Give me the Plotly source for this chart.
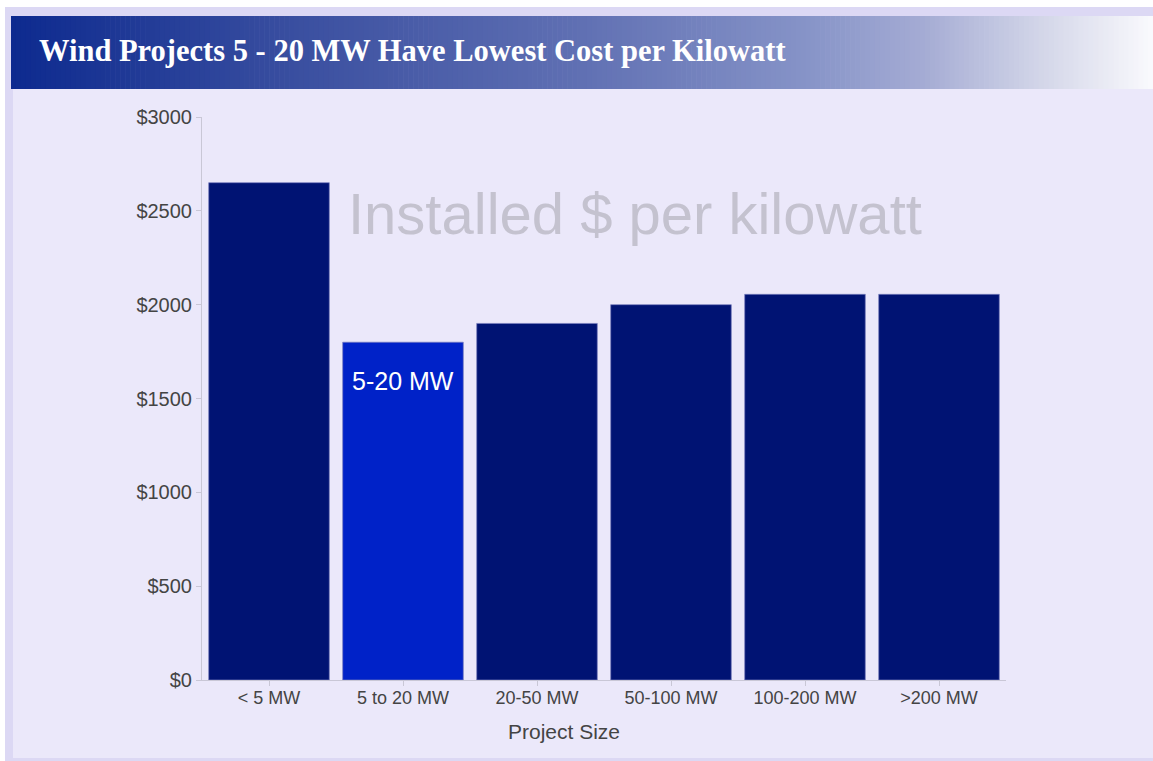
import plotly.graph_objects as go

# ---- data ----
categories = ["< 5 MW", "5 to 20 MW", "20-50 MW", "50-100 MW", "100-200 MW", ">200 MW"]
cost_per_kw = [2650, 1800, 1900, 2000, 2055, 2055]
highlight = "5 to 20 MW"
y_tick_values = [0, 500, 1000, 1500, 2000, 2500, 3000]
y_tick_labels = ["$0", "$500", "$1000", "$1500", "$2000", "$2500", "$3000"]

title_text = "Wind Projects 5 - 20 MW Have Lowest Cost per Kilowatt"
watermark_text = "Installed $ per kilowatt"
bar_label_text = "5-20 MW"
x_title_text = "Project Size"

# ---- geometry (pixels) ----
W, H = 1153, 761
PLOT_L, PLOT_R, PLOT_T, PLOT_B = 202, 1006, 117, 680


def px(x):
    return x / W


def py(y):
    return 1 - y / H


DARK = "#001373"
BRIGHT = "#0022c8"
bar_colors = [BRIGHT if c == highlight else DARK for c in categories]

fig = go.Figure()
fig.add_trace(go.Bar(
    x=categories,
    y=cost_per_kw,
    marker=dict(color=bar_colors, line=dict(color="rgba(120,125,190,0.7)", width=1)),
    hoverinfo="x+y",
    showlegend=False,
))

shapes = []
# outer border
shapes.append(dict(type="rect", xref="paper", yref="paper", x0=px(5), x1=px(W), y0=py(761), y1=py(7),
                   fillcolor="#dcd8f4", line=dict(width=0), layer="below"))
# panel
shapes.append(dict(type="rect", xref="paper", yref="paper", x0=px(13), x1=px(W), y0=py(758), y1=py(89),
                   fillcolor="#ebe8fa", line=dict(width=0), layer="below"))

# gradient title bar
stops = [(0.0, (13, 42, 143)), (0.25, (58, 79, 160)), (0.5, (96, 112, 179)),
         (0.7, (135, 148, 200)), (0.8, (165, 172, 212)), (0.9, (210, 213, 232)),
         (1.0, (250, 250, 253))]


def grad(t):
    for (t0, c0), (t1, c1) in zip(stops[:-1], stops[1:]):
        if t <= t1:
            f = (t - t0) / (t1 - t0) if t1 > t0 else 0
            return "rgb(%d,%d,%d)" % tuple(round(a + (b - a) * f) for a, b in zip(c0, c1))
    return "rgb(%d,%d,%d)" % stops[-1][1]


x_start, x_end = 11, W
n = 230
step = (x_end - x_start) / n
for i in range(n):
    xa = x_start + i * step
    xb = xa + step + 0.6
    t = (i + 0.5) / n
    shapes.append(dict(type="rect", xref="paper", yref="paper", x0=px(xa), x1=px(min(xb, W)),
                       y0=py(89), y1=py(16), fillcolor=grad(t), line=dict(width=0), layer="below"))

annotations = [
    dict(text=title_text, xref="paper", yref="paper", x=px(37), y=py(51), xanchor="left", yanchor="middle",
         showarrow=False, font=dict(family="Liberation Serif, Times New Roman, serif", size=30.5, color="white",
                                    weight="bold")),
    dict(text=watermark_text, xref="paper", yref="paper", x=px(635), y=py(213), xanchor="center",
         yanchor="middle", showarrow=False,
         font=dict(family="Liberation Sans, Arial, sans-serif", size=58, color="#c4c2cf")),
    dict(text=bar_label_text, xref="paper", yref="paper", x=px(403), y=py(381), xanchor="center",
         yanchor="middle", showarrow=False,
         font=dict(family="Liberation Sans, Arial, sans-serif", size=25, color="white")),
    dict(text=x_title_text, xref="paper", yref="paper", x=px(564), y=py(731), xanchor="center",
         yanchor="middle", showarrow=False,
         font=dict(family="Liberation Sans, Arial, sans-serif", size=21, color="#444444")),
]

fig.update_layout(
    width=W, height=H,
    margin=dict(l=0, r=0, t=0, b=0, pad=0),
    paper_bgcolor="white",
    plot_bgcolor="rgba(0,0,0,0)",
    bargap=0.1,
    shapes=shapes,
    annotations=annotations,
    xaxis=dict(
        domain=[px(PLOT_L), px(PLOT_R)],
        automargin=False,
        showline=True, linecolor="#c9c7d6", linewidth=1,
        ticks="outside", ticklen=5, tickcolor="#c9c7d6",
        ticklabelstandoff=-4,
        tickfont=dict(family="Liberation Sans, Arial, sans-serif", size=18, color="#444444"),
        showgrid=False, zeroline=False, fixedrange=True,
    ),
    yaxis=dict(
        domain=[py(PLOT_B), py(PLOT_T)],
        automargin=False,
        range=[0, 3000],
        tickvals=y_tick_values, ticktext=y_tick_labels,
        showline=True, linecolor="#c9c7d6", linewidth=1,
        ticks="outside", ticklen=5, tickcolor="#c9c7d6",
        tickfont=dict(family="Liberation Sans, Arial, sans-serif", size=20, color="#444444"),
        showgrid=False, zeroline=False, fixedrange=True,
    ),
)

post_js = (
    "document.documentElement.style.overflow='hidden';"
    "document.body.style.margin='0px';"
    "document.body.style.overflow='hidden';"
)

fig.write_html(
    "out.html",
    config={"responsive": False, "displayModeBar": False},
    post_script=post_js,
)
